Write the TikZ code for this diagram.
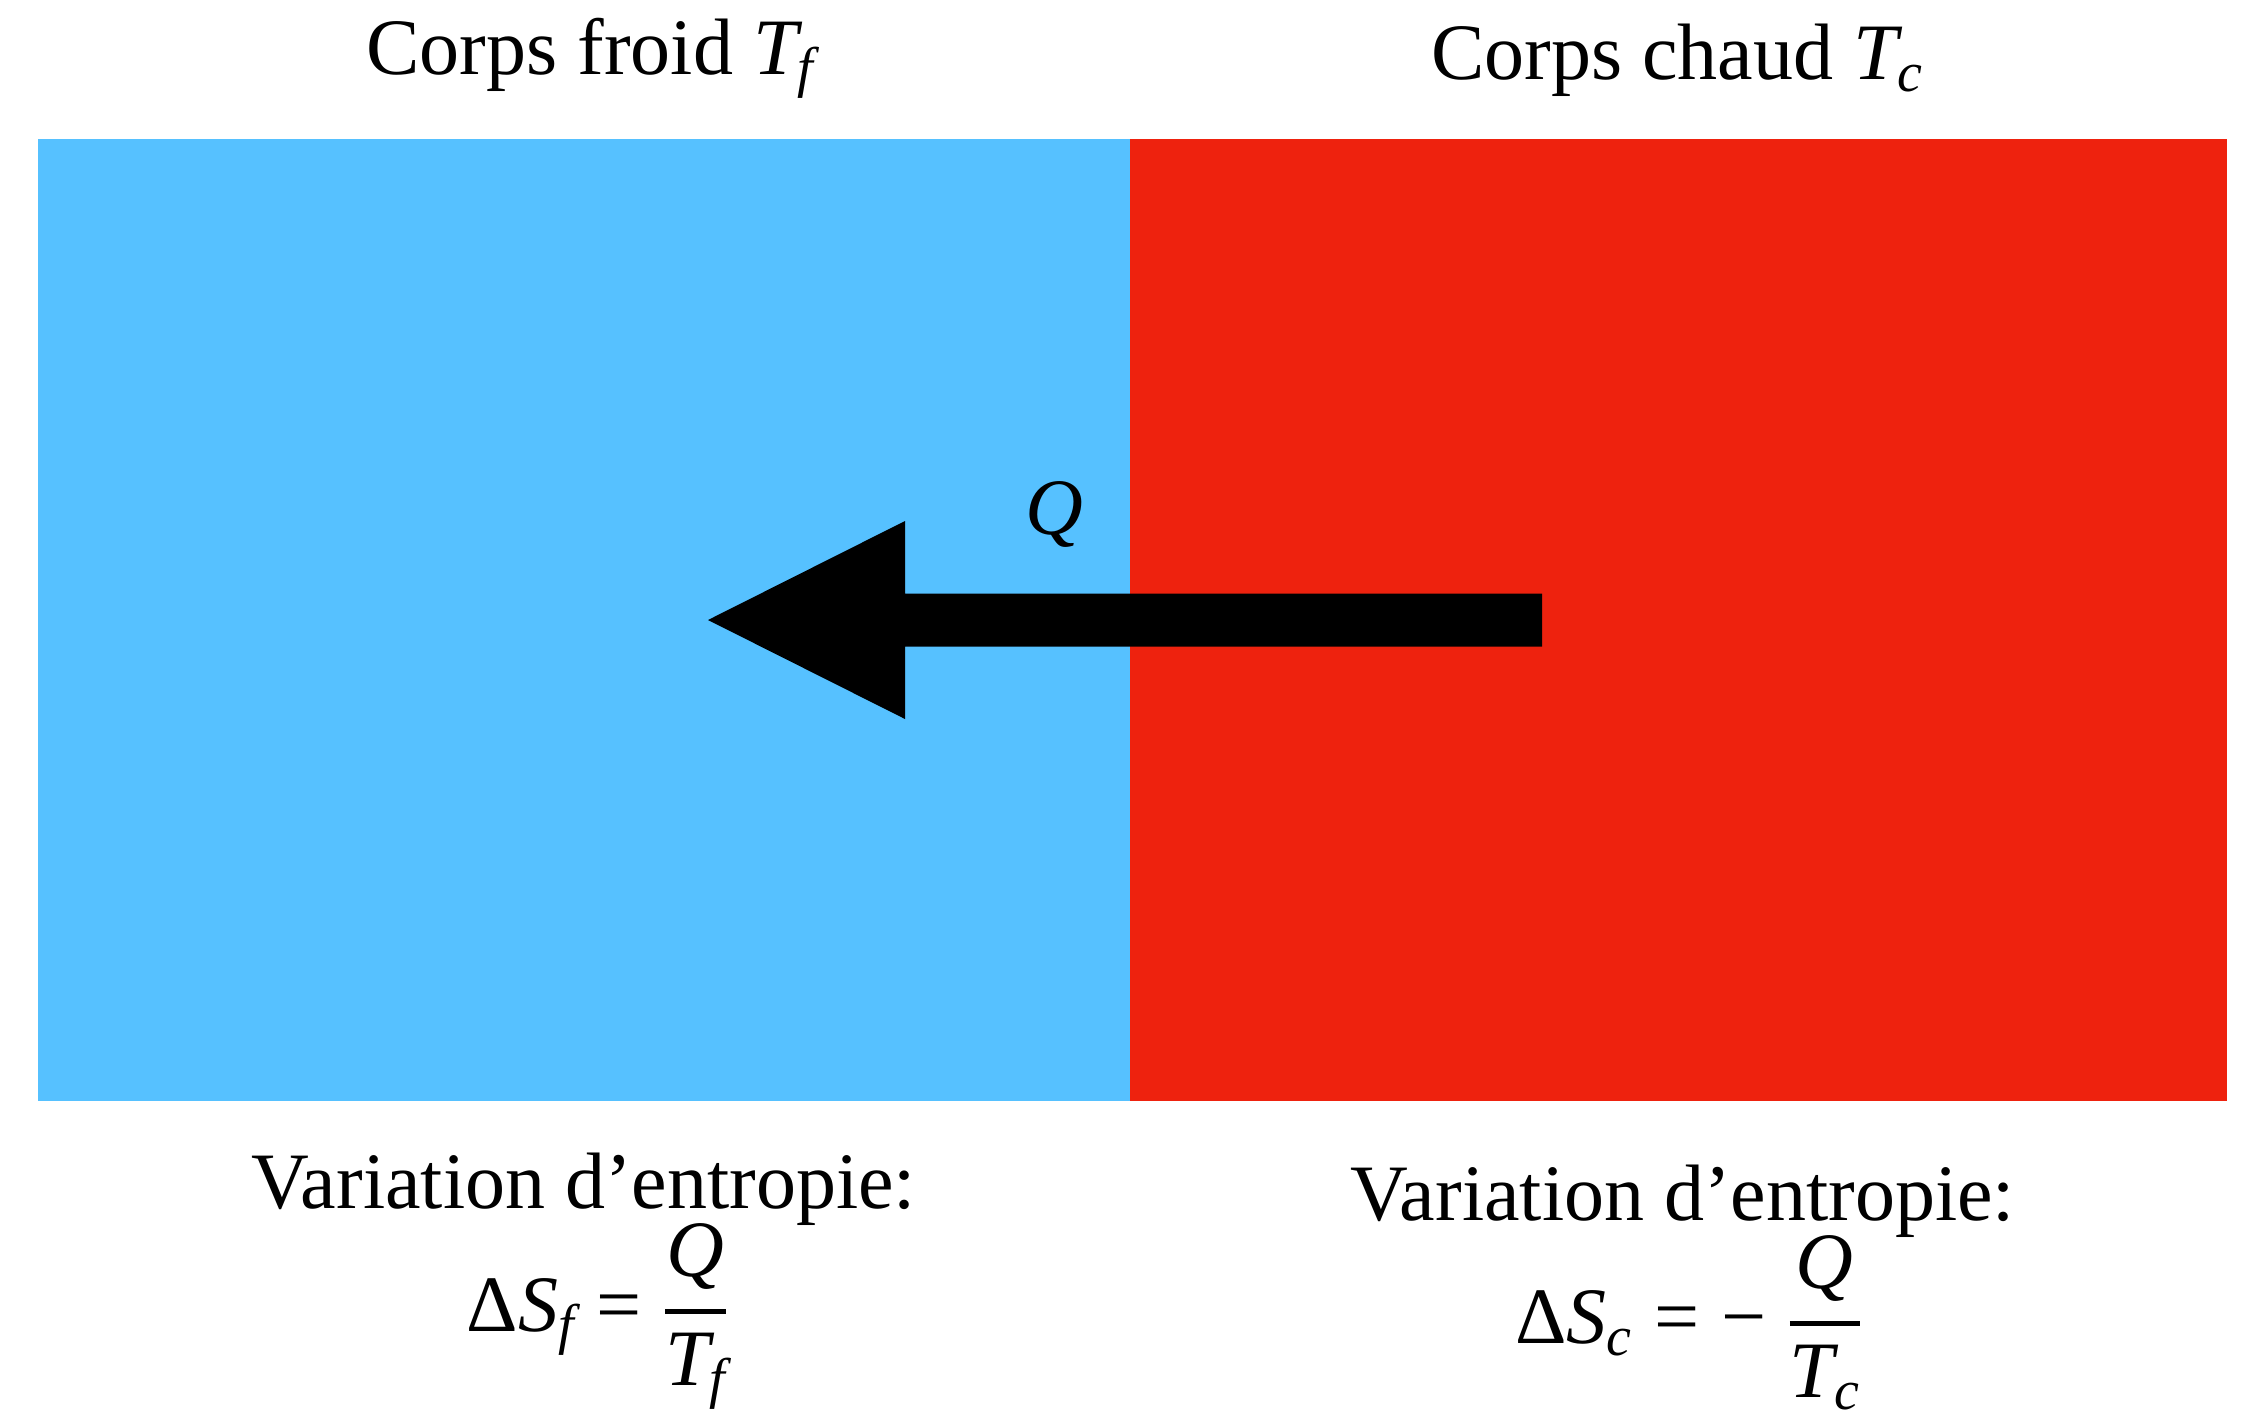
\RequirePackage{fix-cm}
\documentclass[tikz,border=0pt]{standalone}
\usepackage{fontspec}
\usepackage{amsmath}
\setmainfont{Liberation Serif}
\usetikzlibrary{calc}
\definecolor{coldblue}{RGB}{86,193,255}
\definecolor{hotred}{RGB}{238,34,14}
\newcommand{\vit}[1]{\text{\itshape #1}}
\newcommand{\bfrac}[2]{\genfrac{}{}{5pt}{0}{#1}{#2}}
\begin{document}
\begin{tikzpicture}[x=1pt,y=-1pt,
  every node/.style={font=\fontsize{80}{96}\selectfont, inner sep=0pt, outer sep=0pt},
  body/.style={anchor=north west, minimum height=962pt},
  label/.style={anchor=base}]
\useasboundingbox (0,0) rectangle (2243,1414);
% bodies
\node[body, fill=coldblue, minimum width=1092pt] (cold) at (38,139) {};
\node[body, fill=hotred, minimum width=1097pt] (hot) at (1130,139) {};
% titles
\node[label] (tcold) at (590,74) {Corps froid \vit{T}$_{\vit{f}}$};
\node[label] (thot) at (1677,79) {Corps chaud \vit{T}$_{\vit{c}}$};
% heat arrow
\coordinate (tail) at (1542,620);
\coordinate (tip) at (708,620);
\fill[black] ($(tail)+(0,-26.5)$) -- ($(tip)+(197,-26.5)$) -- ($(tip)+(197,-99)$) -- (tip)
  -- ($(tip)+(197,99)$) -- ($(tip)+(197,26.5)$) -- ($(tail)+(0,26.5)$) -- cycle;
\node (q) at (1054,514) {\vit{Q}};
% entropy variations
\node[label] (vcold) at (584,1208) {Variation d'entropie:};
\node[label] (ecold) at (597,1331) {$\text{Δ}\vit{S}_{\vit{f}} \mathrel{\text{=}} \bfrac{\vit{Q}}{\vit{T}_{\vit{f}}}$};
\node[label] (vhot) at (1683,1220) {Variation d'entropie:};
\node[label] (ehot) at (1688,1343) {$\text{Δ}\vit{S}_{\vit{c}} \mathrel{\text{=}} \text{−}\;\bfrac{\vit{Q}}{\vit{T}_{\vit{c}}}$};
\end{tikzpicture}
\end{document}
